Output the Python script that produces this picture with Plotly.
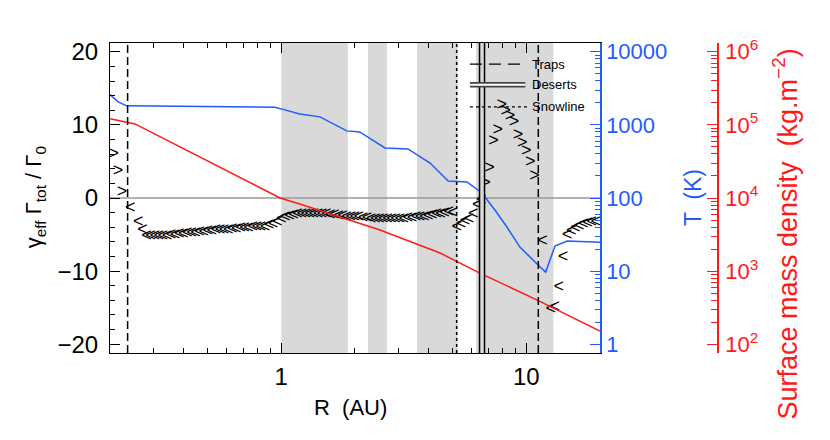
import plotly.graph_objects as go

# torque points (R in AU, gamma_eff * Gamma_tot / Gamma_0)
r_torque = [0.2073, 0.2154, 0.2239, 0.2417, 0.2610, 0.2712, 0.2818, 0.2929, 0.3043, 0.3162,
            0.3286, 0.3415, 0.3548, 0.3687, 0.3831, 0.3981, 0.4137, 0.4299, 0.4467, 0.4642,
            0.4823, 0.5012, 0.5208, 0.5412, 0.5623, 0.5843, 0.6072, 0.6310, 0.6556, 0.6813,
            0.7079, 0.7356, 0.7644, 0.7943, 0.8254, 0.8577, 0.8913, 0.9261, 0.9624, 1.000,
            1.039, 1.080, 1.122, 1.166, 1.212, 1.259, 1.308, 1.359, 1.413, 1.468,
            1.525, 1.585, 1.647, 1.711, 1.778, 1.848, 1.920, 1.995, 2.073, 2.154,
            2.239, 2.326, 2.417, 2.512, 2.610, 2.712, 2.818, 2.929, 3.043, 3.162,
            3.286, 3.415, 3.548, 3.687, 3.831, 3.981, 4.137, 4.299, 4.467, 4.642,
            4.823, 5.012, 5.208, 5.412, 5.623, 5.843, 6.072, 6.310, 6.556, 6.813,
            7.079, 7.356, 7.644, 7.943, 8.254, 8.577, 8.913, 9.261, 9.624, 10.00,
            10.39, 10.80, 11.66, 12.59, 13.08, 13.59, 14.13, 14.68, 15.25, 15.85,
            16.47, 17.11, 17.78, 18.48, 19.20]
gamma_torque = [6.0, 3.6, 0.8, -1.4, -3.4, -4.4, -5.3, -5.3, -5.3, -5.2,
                -5.2, -5.2, -5.1, -5.1, -5.0, -5.0, -4.9, -4.9, -4.8, -4.7,
                -4.7, -4.6, -4.6, -4.5, -4.5, -4.4, -4.4, -4.3, -4.3, -4.2,
                -4.2, -4.2, -4.1, -4.1, -4.0, -4.0, -3.8, -3.6, -3.3, -2.9,
                -2.7, -2.5, -2.4, -2.3, -2.3, -2.2, -2.2, -2.2, -2.3, -2.3,
                -2.3, -2.4, -2.4, -2.5, -2.5, -2.6, -2.6, -2.7, -2.7, -2.8,
                -2.8, -2.9, -2.9, -3.0, -3.0, -3.0, -3.0, -2.9, -2.9, -2.9,
                -2.8, -2.8, -2.7, -2.7, -2.6, -2.5, -2.4, -2.3, -2.2, -2.1,
                -2.0, -2.1, -4.0, -3.6, -3.2, -2.9, -2.3, -1.0, -0.3, 2.0,
                4.1, 7.7, 9.3, 12.7, 11.9, 11.1, 10.3, 8.6, 7.5, 6.3,
                4.9, 2.9, -6.0, -15.2, -15.0, -12.3, -8.2, -5.1, -4.6, -4.2,
                -3.9, -3.6, -3.5, -3.4, -3.4]

# temperature profile (K)
r_temp = [0.20, 0.216, 0.234, 0.466, 0.942, 1.035, 1.19, 1.44, 1.74, 1.85, 2.09, 2.34, 2.65,
          3.29, 3.61, 4.05, 4.80, 5.73, 6.59, 7.45, 8.34, 9.42, 11.4, 12.0, 13.1, 14.7, 20.0]
temp = [2577, 2065, 1820, 1766, 1745, 1604, 1413, 1288, 910, 828, 802, 623, 484,
        469, 388, 301, 171, 166, 117, 68.5, 40.1, 21.3, 11.4, 9.7, 22.0, 25.8, 24.9]

# surface mass density (kg m^-2)
r_sigma = [0.20, 0.234, 0.253, 0.99, 1.19, 2.53, 4.45, 6.47, 11.1, 20.0]
sigma = [1.21e5, 1.10e5, 1.03e5, 1.0e4, 8280, 3650, 1766, 940, 401, 151]

traps = [0.236, 11.2]
deserts = [6.6]
snowline = [5.2]
shade_start = [1.0, 2.26, 3.58, 6.24]
shade_end = [1.87, 2.70, 5.26, 12.9]

legend_labels = ["Traps", "Deserts", "Snowline"]

BLUE = "#1f5cff"
RED = "#ff1a1a"
SHADE = "#d9d9d9"
FONT = "Liberation Sans"

fig = go.Figure()

# ">" for positive torque (outward), "<" for negative (inward)
fig.add_trace(go.Scatter(x=r_torque, y=gamma_torque, mode="text",
                         text=[">" if g > 0 else "<" for g in gamma_torque],
                         textfont=dict(family=FONT, size=18, color="black"),
                         showlegend=False))
fig.add_trace(go.Scatter(x=r_temp, y=temp, yaxis="y2", mode="lines",
                         line=dict(color=BLUE, width=1.5), showlegend=False))
fig.add_trace(go.Scatter(x=r_sigma, y=sigma, yaxis="y3", mode="lines",
                         line=dict(color=RED, width=1.5), showlegend=False))

for a, b in zip(shade_start, shade_end):
    fig.add_vrect(x0=a, x1=b, fillcolor=SHADE, opacity=1, line_width=0, layer="below")
fig.add_hline(y=0, line=dict(color="#999999", width=1.5), layer="below")

for r in traps:
    fig.add_vline(x=r, line=dict(color="black", width=1.5, dash="8px,4px"))
for r in snowline:
    fig.add_vline(x=r, line=dict(color="black", width=1.5, dash="dot"))
for r in deserts:
    fig.add_vline(x=r, line=dict(color="black", width=6.5))
    fig.add_vline(x=r, line=dict(color=SHADE, width=3.5))

# hand-made legend (top right, inside the frame)
leg_y = [0.932, 0.865, 0.794]
fig.add_shape(type="line", xref="paper", yref="paper", x0=0.592, x1=0.675, y0=leg_y[0], y1=leg_y[0],
              line=dict(color="black", width=1.3, dash="12px,7px"))
fig.add_shape(type="line", xref="paper", yref="paper", x0=0.592, x1=0.683, y0=leg_y[1], y1=leg_y[1],
              line=dict(color="#444444", width=5.5))
fig.add_shape(type="line", xref="paper", yref="paper", x0=0.592, x1=0.683, y0=leg_y[1], y1=leg_y[1],
              line=dict(color="white", width=2))
fig.add_shape(type="line", xref="paper", yref="paper", x0=0.592, x1=0.690, y0=leg_y[2], y1=leg_y[2],
              line=dict(color="black", width=1.2, dash="dot"))
for lab, yy in zip(legend_labels, leg_y):
    fig.add_annotation(text=lab, xref="paper", yref="paper", x=0.690, y=yy, xanchor="left",
                       yanchor="middle", showarrow=False, font=dict(family=FONT, size=13, color="black"))

# axis titles
fig.add_annotation(text="\u03b3<sub>eff</sub> \u0393<sub>tot</sub> / \u0393<sub>0</sub>",
                   xref="paper", yref="paper", x=-0.123, y=0.503, textangle=-90,
                   xanchor="center", yanchor="middle",
                   showarrow=False, font=dict(family=FONT, size=22, color="black"))
fig.add_annotation(text="R  (AU)", xref="paper", yref="paper", x=0.395, y=-0.177,
                   xanchor="center", yanchor="middle",
                   showarrow=False, font=dict(family=FONT, size=22, color="black"))
fig.add_annotation(text="T  (K)", xref="paper", yref="paper", x=0.959, y=0.5, textangle=-90,
                   xanchor="center", yanchor="middle",
                   showarrow=False, font=dict(family=FONT, size=23, color=BLUE))
fig.add_annotation(text="Surface mass density  (kg.m<sup>\u22122</sup>)", xref="paper", yref="paper",
                   x=1.11, y=0.385, textangle=-90, xanchor="center", yanchor="middle",
                   showarrow=False, font=dict(family=FONT, size=27, color=RED))

# the page body adds 8 px around the figure, so the figure is 8 px smaller
fig.update_layout(
    width=822, height=432, autosize=False,
    margin=dict(l=102, r=112, t=35, b=87),
    plot_bgcolor="white", paper_bgcolor="white",
    font=dict(family=FONT, color="black"),
    showlegend=False,
    xaxis=dict(type="log", range=[-0.69897, 1.30103], domain=[0, 0.8059],
               tickvals=[1, 10], ticktext=["1", "10"], ticks="inside", ticklen=10,
               tickcolor="black", showline=True, linecolor="black", linewidth=1,
               mirror="ticks", showgrid=False, zeroline=False, ticklabelstandoff=2,
               tickfont=dict(size=24),
               minor=dict(tickvals=[0.2, 0.3, 0.4, 0.5, 0.6, 0.7, 0.8, 0.9,
                                    2, 3, 4, 5, 6, 7, 8, 9, 20],
                          ticks="inside", ticklen=5, tickcolor="black", showgrid=False)),
    yaxis=dict(range=[-21.2, 21.2], tickvals=[-20, -10, 0, 10, 20],
               ticktext=["\u221220", "\u221210", "0", "10", "20"],
               ticks="inside", ticklen=10, tickcolor="black", showline=True,
               linecolor="black", linewidth=1, showgrid=False, zeroline=False,
               ticklabelstandoff=6, tickfont=dict(size=24),
               minor=dict(dtick=2, ticks="inside", ticklen=5, tickcolor="black", showgrid=False)),
    yaxis2=dict(type="log", overlaying="y", side="right", anchor="x",
                range=[-0.12, 4.12], tickvals=[1, 10, 100, 1000, 10000],
                ticktext=["1", "10", "100", "1000", "10000"],
                ticks="inside", ticklen=10, tickcolor=BLUE, showline=True,
                linecolor=BLUE, linewidth=1.5, showgrid=False, zeroline=False,
                ticklabelstandoff=0, tickfont=dict(size=22, color=BLUE),
                minor=dict(tickvals=[m * d for d in (1, 10, 100, 1000) for m in range(2, 10)],
                           ticks="inside", ticklen=5, tickcolor=BLUE, showgrid=False)),
    yaxis3=dict(type="log", overlaying="y", side="right", anchor="free", position=1.0,
                range=[1.88, 6.12], tickvals=[1e2, 1e3, 1e4, 1e5, 1e6],
                ticktext=["10<sup>2</sup>", "10<sup>3</sup>", "10<sup>4</sup>",
                          "10<sup>5</sup>", "10<sup>6</sup>"],
                ticks="inside", ticklen=10, tickcolor=RED, showline=True,
                linecolor=RED, linewidth=1.5, showgrid=False, zeroline=False,
                ticklabelstandoff=2, tickfont=dict(size=22, color=RED),
                minor=dict(tickvals=[m * d for d in (100, 1000, 10000, 100000) for m in range(2, 10)],
                           ticks="inside", ticklen=6, tickcolor=RED, showgrid=False)),
)

fig.write_html("out.html")
